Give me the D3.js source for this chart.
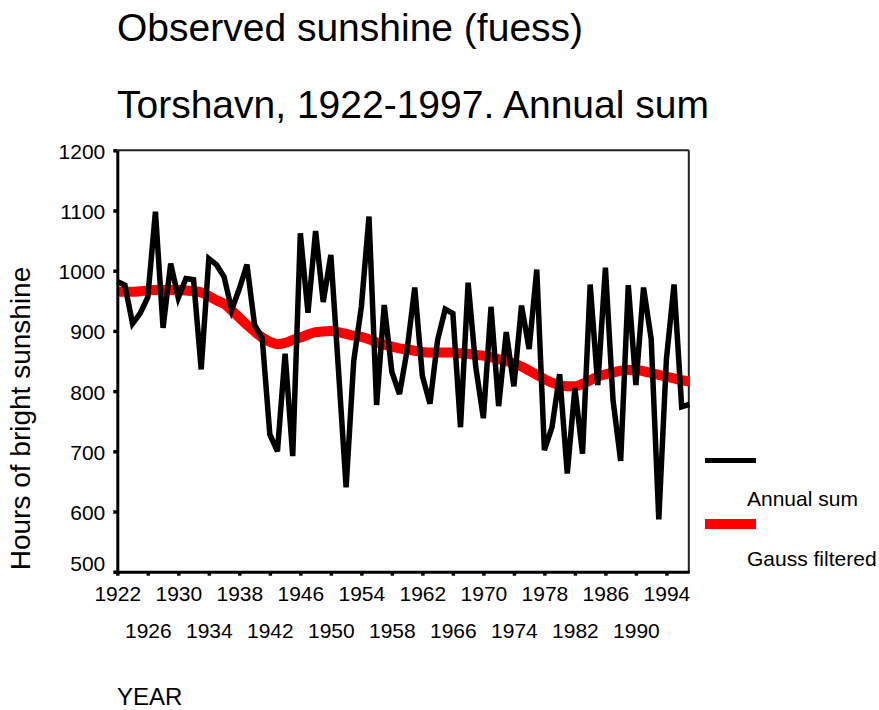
<!DOCTYPE html>
<html><head><meta charset="utf-8">
<script src="https://cdn.jsdelivr.net/npm/d3@7"></script>
<style>
body{margin:0;background:#fff}
svg text{font-family:"Liberation Sans",Arial,Helvetica,sans-serif;fill:#000}
</style>
</head><body>
<svg id="chart" width="879" height="710"></svg>
<script>
const years = [1922,1923,1924,1925,1926,1927,1928,1929,1930,1931,1932,1933,1934,1935,1936,1937,1938,1939,1940,1941,
  1942,1943,1944,1945,1946,1947,1948,1949,1950,1951,1952,1953,1954,1955,1956,1957,1958,1959,1960,1961,
  1962,1963,1964,1965,1966,1967,1968,1969,1970,1971,1972,1973,1974,1975,1976,1977,1978,1979,1980,1981,
  1982,1983,1984,1985,1986,1987,1988,1989,1990,1991,1992,1993,1994,1995,1996,1997];
const annualSum = [982,976,912,929,956,1098,905,1012,955,987,985,836,1020,1010,990,935,970,1010,910,888,
  728,700,862,692,1062,930,1066,948,1026,835,640,850,940,1090,777,943,832,795,868,972,
  825,779,885,936,929,740,980,840,755,940,775,898,808,942,870,1002,702,740,828,663,
  805,696,977,810,1005,785,684,976,810,972,887,587,853,977,774,778];
const gaussFiltered = [965,965,965,966,967,968,968,968,968,967,966,964,958,951,945,934,922,910,899,889,
  882,878,880,885,889,894,898,899,900,898,895,892,890,886,881,877,874,871,869,867,
  865,864,864,864,864,863,862,860,859,856,853,850,846,841,834,827,820,814,810,808,
  808,812,818,824,828,831,834,835,835,833,830,827,824,821,818,816];
const yTicks = [500,600,700,800,900,1000,1100,1200];
const xTicks = [1922,1926,1930,1934,1938,1942,1946,1950,1954,1958,1962,1966,1970,1974,1978,1982,1986,1990,1994];
const titleLines = ["Observed sunshine (fuess)", "Torshavn, 1922-1997. Annual sum"];
const yLabel = "Hours of bright sunshine";
const xLabel = "YEAR";
const seriesNames = ["Annual sum", "Gauss filtered"];
const seriesColors = ["#000000", "#ff0000"];

const svg = d3.select("#chart");
const L = 117.3, R = 689.3, T = 150.3, B = 571.7;
const x = d3.scaleLinear().domain([1922, 1997]).range([L, R]);
const y = d3.scaleLinear().domain([500, 1200]).range([B, T]);

// titles
svg.append("text").attr("x", 117).attr("y", 41).style("font-size", "39px").text(titleLines[0]);
svg.append("text").attr("x", 117).attr("y", 118).style("font-size", "39px").text(titleLines[1]);

// frame top/right
svg.append("line").attr("x1", L).attr("x2", R - 0.5).attr("y1", T).attr("y2", T)
  .attr("stroke", "#222").attr("stroke-width", 2);
svg.append("line").attr("x1", R - 0.5).attr("x2", R - 0.5).attr("y1", T).attr("y2", B)
  .attr("stroke", "#222").attr("stroke-width", 2);

// lines
const data = years.map((yr, i) => ({yr, a: annualSum[i], g: gaussFiltered[i]}));
const lineG = d3.line().x(d => x(d.yr)).y(d => y(d.g)).curve(d3.curveMonotoneX);
const lineA = d3.line().x(d => x(d.yr)).y(d => y(d.a));
svg.append("path").datum(data).attr("d", lineG).attr("fill", "none")
  .attr("stroke", seriesColors[1]).attr("stroke-width", 10);
svg.append("path").datum(data).attr("d", lineA).attr("fill", "none")
  .attr("stroke", seriesColors[0]).attr("stroke-width", 5.5)
  .attr("stroke-linejoin", "miter").attr("stroke-miterlimit", 4);

// y axis
const yAxis = svg.append("g").attr("transform", `translate(${L},0)`)
  .call(d3.axisLeft(y).tickValues(yTicks).tickSize(4).tickSizeOuter(0).tickPadding(8).tickFormat(d3.format("d")));
yAxis.select(".domain").attr("stroke", "#000").attr("stroke-width", 3);
yAxis.selectAll(".tick line").attr("stroke", "#000").attr("stroke-width", 3.5);
yAxis.selectAll(".tick text").style("font-size", "21px").attr("fill", "#000")
  .attr("dy", null)
  .attr("y", d => Math.min(y(d) + 8, 570) - y(d));

// x axis
const xAxis = svg.append("g").attr("transform", `translate(0,${B})`)
  .call(d3.axisBottom(x).tickValues(xTicks).tickSize(4).tickSizeOuter(0).tickFormat(d3.format("d")));
xAxis.select(".domain").attr("stroke", "#000").attr("stroke-width", 3);
xAxis.selectAll(".tick line").attr("stroke", "#000").attr("stroke-width", 3.5);
xAxis.selectAll(".tick text").style("font-size", "21px").attr("fill", "#000")
  .attr("dy", null)
  .attr("y", (d, i) => i % 2 === 0 ? 29.5 : 66.5);

// axis titles
svg.append("text").attr("transform", "translate(30,418.5) rotate(-90)")
  .attr("text-anchor", "middle").style("font-size", "28px").text(yLabel);
svg.append("text").attr("x", 117).attr("y", 705).style("font-size", "24px").text(xLabel);

// legend
const legend = svg.append("g");
legend.append("line").attr("x1", 705).attr("x2", 756).attr("y1", 460.5).attr("y2", 460.5)
  .attr("stroke", seriesColors[0]).attr("stroke-width", 5);
legend.append("text").attr("x", 747).attr("y", 506).style("font-size", "21px").text(seriesNames[0]);
legend.append("line").attr("x1", 705).attr("x2", 756).attr("y1", 524).attr("y2", 524)
  .attr("stroke", seriesColors[1]).attr("stroke-width", 10);
legend.append("text").attr("x", 747).attr("y", 566).style("font-size", "21px").text(seriesNames[1]);
</script>
</body></html>
